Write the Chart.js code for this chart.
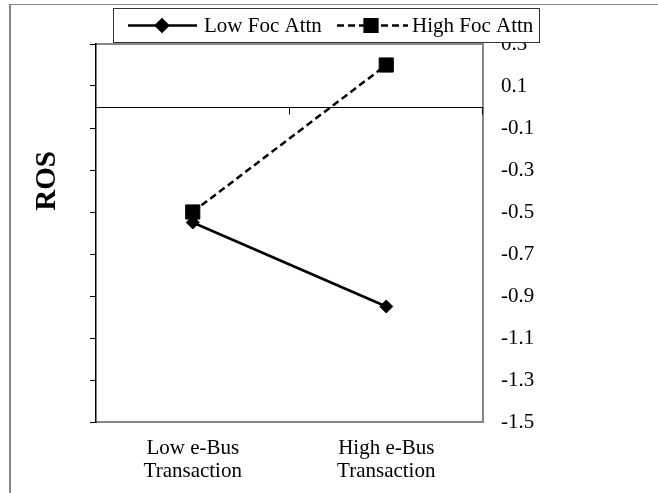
<!DOCTYPE html>
<html>
<head>
<meta charset="utf-8">
<script src="https://cdn.jsdelivr.net/npm/chart.js@4.4.1/dist/chart.umd.min.js"></script>
<style>
  html, body { margin: 0; padding: 0; background: #fff; overflow: hidden; }
  #frame { position: absolute; left: 9px; top: 4px; width: 700px; height: 600px;
           border-left: 2px solid #868686; border-top: 1px solid #868686; }
  #wrap { position: absolute; left: 0; top: 0; width: 658px; height: 493px; }
</style>
</head>
<body>
<div id="frame"></div>
<div id="wrap"><canvas id="rosChart" width="658" height="493"></canvas></div>
<script>
const categories = [['Low e-Bus', 'Transaction'], ['High e-Bus', 'Transaction']];
const seriesNames = ['Low Foc Attn', 'High Foc Attn'];
const lowFocAttn = [-0.55, -0.95];
const highFocAttn = [-0.50, 0.20];
const yTicks = [0.3, 0.1, -0.1, -0.3, -0.5, -0.7, -0.9, -1.1, -1.3, -1.5];
const yTitle = 'ROS';
const crossAt = 0; // category axis crosses here

const serif = '"Liberation Serif", "Times New Roman", serif';
const gray = '#868686';
const yMin = Math.min(...yTicks);
const yMax = Math.max(...yTicks);
const setTicks = s => { s.ticks = yTicks.map(v => ({ value: v })); };

// zero line, legend box and the rotated axis title
const extras = {
  id: 'extras',
  beforeDatasetsDraw(chart) {
    const { ctx, chartArea } = chart;
    const xs = chart.scales.x;
    const y0 = Math.round(chart.scales.y.getPixelForValue(crossAt)) + 0.5;
    ctx.save();
    ctx.strokeStyle = '#000';
    ctx.lineWidth = 1;
    ctx.beginPath();
    ctx.moveTo(chartArea.left, y0);
    ctx.lineTo(chartArea.right, y0);
    const half = (xs.getPixelForValue(1) - xs.getPixelForValue(0)) / 2;
    for (let i = 1; i <= categories.length; i++) {
      const bx = Math.round(xs.getPixelForValue(i - 1) + half) - 0.5;
      ctx.moveTo(bx, y0);
      ctx.lineTo(bx, y0 + 7);
    }
    ctx.stroke();
    ctx.restore();
  },
  afterDraw(chart) {
    const { ctx } = chart;
    ctx.save();
    // legend
    ctx.fillStyle = '#fff';
    ctx.fillRect(113, 8, 426, 34);
    ctx.strokeStyle = '#333';
    ctx.lineWidth = 1;
    ctx.strokeRect(113.5, 8.5, 426, 34);
    const items = [
      { x1: 128, x2: 197, mx: 162, tx: 204 },
      { x1: 337, x2: 408, mx: 371, tx: 412 }
    ];
    const ly = 25.5;
    chart.data.datasets.forEach((ds, i) => {
      const it = items[i];
      ctx.strokeStyle = ds.borderColor;
      ctx.lineWidth = ds.borderWidth;
      ctx.setLineDash(ds.borderDash || []);
      ctx.beginPath();
      ctx.moveTo(it.x1, ly);
      ctx.lineTo(it.x2, ly);
      ctx.stroke();
      ctx.setLineDash([]);
      ctx.fillStyle = ds.pointBackgroundColor;
      ctx.strokeStyle = ds.borderColor;
      Chart.helpers.drawPoint(ctx, {
        pointStyle: ds.pointStyle,
        radius: ds.legendRadius,
        borderWidth: 1,
        rotation: 0
      }, it.mx, ly);
      ctx.fillStyle = '#000';
      ctx.font = '21px ' + serif;
      ctx.textBaseline = 'middle';
      ctx.textAlign = 'left';
      ctx.fillText(ds.label, it.tx, ly + 1);
    });
    // axis title
    ctx.translate(48, 181);
    ctx.rotate(-Math.PI / 2);
    ctx.font = 'bold 29px ' + serif;
    ctx.textAlign = 'center';
    ctx.textBaseline = 'middle';
    ctx.fillStyle = '#000';
    ctx.fillText(yTitle, 0, 0);
    ctx.restore();
  }
};

new Chart(document.getElementById('rosChart'), {
  type: 'line',
  data: {
    labels: categories,
    datasets: [
      {
        label: seriesNames[0],
        data: lowFocAttn,
        borderColor: '#000',
        borderWidth: 2.5,
        pointStyle: 'rectRot',
        pointRadius: 6.5,
        legendRadius: 6,
        pointBorderWidth: 1,
        pointBackgroundColor: '#000',
        pointBorderColor: '#000',
        tension: 0
      },
      {
        label: seriesNames[1],
        data: highFocAttn,
        borderColor: '#000',
        borderWidth: 2.5,
        borderDash: [7, 4],
        pointStyle: 'rect',
        pointRadius: 10,
        legendRadius: 9,
        pointBorderWidth: 1,
        pointBackgroundColor: '#000',
        pointBorderColor: '#000',
        tension: 0
      }
    ]
  },
  options: {
    responsive: false,
    animation: false,
    layout: { padding: 0 },
    plugins: { legend: { display: false }, tooltip: { enabled: false } },
    scales: {
      x: {
        position: 'bottom',
        offset: true,
        grid: { display: false, drawTicks: false },
        border: { color: gray, width: 2 },
        ticks: {
          color: '#000',
          font: { family: serif, size: 21, lineHeight: 1.1 },
          padding: 15,
          maxRotation: 0,
          autoSkip: false
        },
        afterFit: s => { s.height = 71; }
      },
      xTop: {
        type: 'category',
        position: 'top',
        offset: true,
        grid: { display: false, drawTicks: false },
        border: { color: gray, width: 2 },
        ticks: { display: false },
        afterFit: s => { s.height = 44; }
      },
      y: {
        position: 'left',
        min: yMin,
        max: yMax,
        afterBuildTicks: setTicks,
        grid: { drawOnChartArea: false, drawTicks: true, tickLength: 6, color: '#000', lineWidth: 1 },
        border: { color: '#000', width: 1.5 },
        ticks: { display: false },
        afterFit: s => { s.width = 96; }
      },
      yRight: {
        position: 'right',
        min: yMin,
        max: yMax,
        afterBuildTicks: setTicks,
        grid: { display: false, drawTicks: false },
        border: { color: gray, width: 2 },
        ticks: {
          color: '#000',
          font: { family: serif, size: 21 },
          padding: 18,
          crossAlign: 'near',
          callback: v => Number(v).toFixed(1)
        },
        afterFit: s => { s.width = 175; }
      }
    }
  },
  plugins: [extras]
});
</script>
</body>
</html>
